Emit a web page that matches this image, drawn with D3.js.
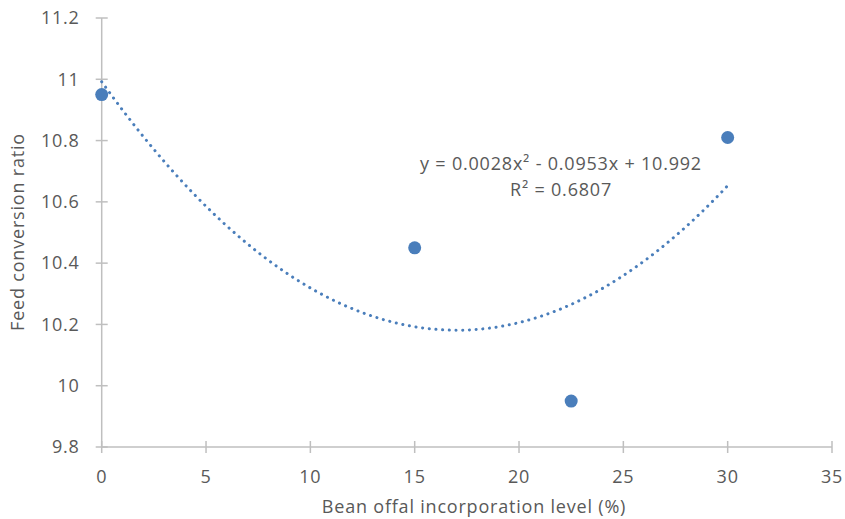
<!DOCTYPE html>
<html>
<head>
<meta charset="utf-8">
<script src="https://cdn.jsdelivr.net/npm/d3@7"></script>
<style>
  body { margin: 0; background: #fff; }
  text { font-family: "Open Sans", "Liberation Sans", sans-serif; fill: #595959; letter-spacing: 0.8px; }
</style>
</head>
<body>
<div id="canvas"></div>
<script>
// data
var levels = [0, 15, 22.5, 30];
var fcr = [10.95, 10.45, 9.95, 10.81];
var xTicks = [0, 5, 10, 15, 20, 25, 30, 35];
var yTicks = [9.8, 10, 10.2, 10.4, 10.6, 10.8, 11, 11.2];
// polynomial trendline coefficients (order 2)
var coef = [10.992, -0.0953, 0.0028];
var eqText = "y = 0.0028x² - 0.0953x + 10.992";
var r2Text = "R² = 0.6807";

var W = 845, H = 519;
var fs = 18;
var svg = d3.select("#canvas").append("svg")
  .attr("width", W).attr("height", H);

var x = d3.scaleLinear().domain([0, 35]).range([101.7, 832]);
var y = d3.scaleLinear().domain([9.8, 11.2]).range([447, 18]);

var axisColor = "#bfbfbf";

// y axis line + ticks
svg.append("line")
  .attr("x1", x(0)).attr("x2", x(0))
  .attr("y1", y(11.2)).attr("y2", y(9.8))
  .attr("stroke", axisColor).attr("stroke-width", 1.5);
svg.append("g").selectAll("line").data(yTicks).enter().append("line")
  .attr("x1", x(0) - 6).attr("x2", x(0) + 6)
  .attr("y1", function(d) { return y(d); })
  .attr("y2", function(d) { return y(d); })
  .attr("stroke", axisColor).attr("stroke-width", 1.5);
svg.append("g").selectAll("text").data(yTicks).enter().append("text")
  .attr("x", x(0) - 22)
  .attr("y", function(d) { return y(d); })
  .attr("dy", "0.35em")
  .attr("text-anchor", "end")
  .attr("font-size", fs)
  .text(function(d) { return +d.toFixed(1); });

// x axis line + ticks
svg.append("line")
  .attr("x1", x(0)).attr("x2", x(35))
  .attr("y1", y(9.8)).attr("y2", y(9.8))
  .attr("stroke", axisColor).attr("stroke-width", 1.5);
svg.append("g").selectAll("line").data(xTicks).enter().append("line")
  .attr("x1", function(d) { return x(d); })
  .attr("x2", function(d) { return x(d); })
  .attr("y1", y(9.8) - 6).attr("y2", y(9.8) + 6)
  .attr("stroke", axisColor).attr("stroke-width", 1.5);
svg.append("g").selectAll("text").data(xTicks).enter().append("text")
  .attr("x", function(d) { return x(d); })
  .attr("y", y(9.8) + 36)
  .attr("text-anchor", "middle")
  .attr("font-size", fs)
  .text(function(d) { return d; });

// axis titles
svg.append("text")
  .attr("x", 474).attr("y", 513)
  .attr("text-anchor", "middle")
  .attr("font-size", fs)
  .text("Bean offal incorporation level (%)");
svg.append("text")
  .attr("transform", "translate(24,232) rotate(-90)")
  .attr("text-anchor", "middle")
  .attr("font-size", fs)
  .text("Feed conversion ratio");

// trendline
var trend = d3.range(0, 30.01, 0.25).map(function(v) {
  return [v, coef[0] + coef[1] * v + coef[2] * v * v];
});
svg.append("path")
  .datum(trend)
  .attr("fill", "none")
  .attr("stroke", "#4a7ebb")
  .attr("stroke-width", 3)
  .attr("stroke-linecap", "round")
  .attr("stroke-dasharray", "0.1 6.6")
  .attr("d", d3.line()
    .x(function(d) { return x(d[0]); })
    .y(function(d) { return y(d[1]); }));

// points
svg.append("g").selectAll("circle")
  .data(levels.map(function(l, i) { return {x: l, y: fcr[i]}; }))
  .enter().append("circle")
  .attr("cx", function(d) { return x(d.x); })
  .attr("cy", function(d) { return y(d.y); })
  .attr("r", 6.5)
  .attr("fill", "#4a7ebb");

// equation label
svg.append("text")
  .attr("x", 561).attr("y", 170)
  .attr("text-anchor", "middle")
  .attr("font-size", fs)
  .text(eqText);
svg.append("text")
  .attr("x", 561).attr("y", 196)
  .attr("text-anchor", "middle")
  .attr("font-size", fs)
  .text(r2Text);
</script>
</body>
</html>
